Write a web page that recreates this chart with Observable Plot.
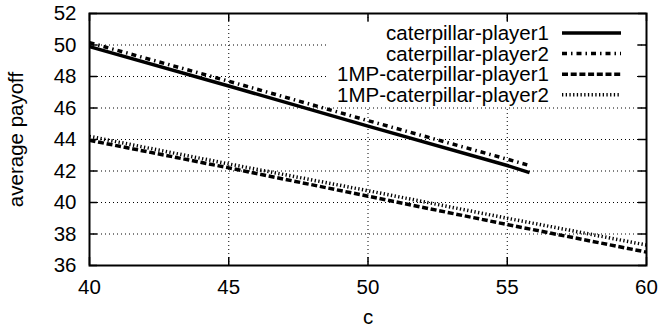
<!DOCTYPE html>
<html><head><meta charset="utf-8">
<script src="https://cdn.jsdelivr.net/npm/d3@7"></script>
<script src="https://cdn.jsdelivr.net/npm/@observablehq/plot@0.6"></script>
<style>body{margin:0;background:#fff} svg{display:block}</style>
</head><body><div id="chart"></div>
<script>
const seriesNames = ["caterpillar-player1", "caterpillar-player2", "1MP-caterpillar-player1", "1MP-caterpillar-player2"];
const cCat = [40, 45, 50, 55, 55.8];
const cat1 = [49.9, 47.4, 44.85, 42.35, 41.9];
const cat2 = [50.15, 47.7, 45.2, 42.75, 42.35];
const cMP = [40, 45, 50, 55, 60];
const mp1 = [43.95, 42.2, 40.4, 38.6, 36.85];
const mp2 = [44.2, 42.45, 40.75, 39.0, 37.3];
const xTicks = [40, 45, 50, 55, 60];
const yTicks = [36, 38, 40, 42, 44, 46, 48, 50, 52];
const xLabel = "c";
const yLabel = "average payoff";

const dashes = [null, "5,4,1.5,4", "6,2.7", "1.3,2.4"];
const W = 661, H = 331, mL = 89, mR = 15, mT = 13, mB = 66;
const pw = W - mL - mR, ph = H - mT - mB, tk = 8;
const FONT = "'Liberation Sans', Arial, Helvetica, sans-serif";
const FS = 20.5;

const series = [
  cCat.map((c, i) => ({c, v: cat1[i]})),
  cCat.map((c, i) => ({c, v: cat2[i]})),
  cMP.map((c, i) => ({c, v: mp1[i]})),
  cMP.map((c, i) => ({c, v: mp2[i]}))
];

const plot = Plot.plot({
  width: W, height: H,
  marginLeft: mL, marginRight: mR, marginTop: mT, marginBottom: mB,
  style: {fontSize: FS + "px", fontFamily: FONT, background: "#fff", color: "#000"},
  x: {domain: [40, 60]},
  y: {domain: [36, 52]},
  marks: [
    Plot.gridX(xTicks.slice(1, -1), {stroke: "#000", strokeOpacity: 1, strokeWidth: 1, strokeDasharray: "1,3"}),
    Plot.gridY(yTicks.slice(1, -1), {stroke: "#000", strokeOpacity: 1, strokeWidth: 1, strokeDasharray: "1,3"}),
    Plot.tickX(xTicks, {x: d => d, stroke: "#000", strokeWidth: 1.5, insetTop: ph - tk}),
    Plot.tickX(xTicks, {x: d => d, stroke: "#000", strokeWidth: 1.5, insetBottom: ph - tk}),
    Plot.tickY(yTicks, {y: d => d, stroke: "#000", strokeWidth: 1.5, insetRight: pw - tk}),
    Plot.tickY(yTicks, {y: d => d, stroke: "#000", strokeWidth: 1.5, insetLeft: pw - tk}),
    ...series.map((s, i) => Plot.line(s, {x: "c", y: "v", stroke: "#000", strokeWidth: 3.5, strokeLinecap: "butt", strokeDasharray: dashes[i]})),
    Plot.frame({stroke: "#000", strokeWidth: 2}),
    Plot.axisX(xTicks, {tickSize: 0, tickPadding: 14, label: null, fontSize: FS}),
    Plot.axisY(yTicks, {tickSize: 0, tickPadding: 13, label: null, fontSize: FS}),
    Plot.text([xLabel], {frameAnchor: "bottom", dy: 58, fontSize: FS}),
    Plot.text([yLabel], {frameAnchor: "left", dx: -73, rotate: -90, textAnchor: "middle", fontSize: FS})
  ]
});
document.getElementById("chart").appendChild(plot);

// legend inside the plot, top right
const svg = d3.select(plot);
const lg = svg.append("g").attr("font-family", FONT).attr("font-size", FS);
lg.append("rect").attr("x", 326).attr("y", 22).attr("width", 310).attr("height", 84).attr("fill", "#fff");
seriesNames.forEach((name, i) => {
  const cy = 33 + i * 20.6;
  lg.append("text").attr("x", 549).attr("y", cy).attr("dy", "0.35em").attr("text-anchor", "end").attr("fill", "#000").text(name);
  const ln = lg.append("line").attr("x1", 562).attr("x2", 621).attr("y1", cy).attr("y2", cy)
    .attr("stroke", "#000").attr("stroke-width", 3.5);
  if (dashes[i]) ln.attr("stroke-dasharray", dashes[i]);
});
</script>
</body></html>
